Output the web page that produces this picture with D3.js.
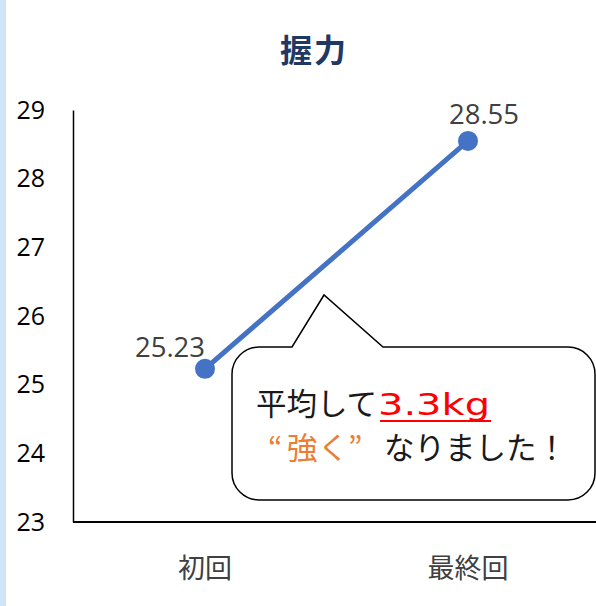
<!DOCTYPE html>
<html><head><meta charset="utf-8">
<script src="https://cdn.jsdelivr.net/npm/d3@7"></script>
<style>body{margin:0;background:#fff;} svg{display:block;}</style>
</head><body>
<script>
const categories = ["初回", "最終回"];
const values = [25.23, 28.55];
const yTicks = [23, 24, 25, 26, 27, 28, 29];
const title = "握力";

const W = 596, H = 606;
const svg = d3.select("body").append("svg").attr("width", W).attr("height", H);
svg.append("rect").attr("x",0).attr("y",0).attr("width",W).attr("height",H).attr("fill","#fff");
svg.append("rect").attr("x",0).attr("y",0).attr("width",6).attr("height",H).attr("fill","#cfe5f7");

const x = d3.scalePoint().domain(categories).range([205, 468]);
const y = d3.scaleLinear().domain([23, 29]).range([522, 110]);

const numFont = "'Open Sans', sans-serif";
const jpFont = "'Noto Sans CJK JP', sans-serif";

svg.append("text").attr("x", 314).attr("y", 62).attr("text-anchor","middle")
  .attr("font-family",jpFont).attr("font-weight","bold").attr("font-size",32)
  .attr("letter-spacing",2)
  .attr("fill","#1f3864").text(title);

// y axis
const yAxis = svg.append("g").attr("transform","translate(73,0)")
  .call(d3.axisLeft(y).tickValues(yTicks).tickSize(0).tickPadding(28).tickFormat(d3.format("d")));
yAxis.select(".domain").attr("stroke","#000").attr("stroke-width",1.5);
yAxis.selectAll("text").attr("font-family",numFont).attr("font-size",25).attr("fill","#000");

// x axis
svg.append("line").attr("x1",73).attr("x2",W).attr("y1",y(23)).attr("y2",y(23))
  .attr("stroke","#000").attr("stroke-width",2);
svg.selectAll(".xl").data(categories).enter().append("text")
  .attr("x", d => x(d)).attr("y", 578).attr("text-anchor","middle")
  .attr("font-family",jpFont).attr("font-size",27).attr("fill","#404040").text(d => d);

// line
const pts = categories.map((c,i) => [x(c), y(values[i])]);
svg.append("path").attr("d", d3.line()(pts)).attr("stroke","#4472c4").attr("stroke-width",5).attr("fill","none");
svg.selectAll(".pt").data(pts).enter().append("circle")
  .attr("cx", d=>d[0]).attr("cy", d=>d[1]).attr("r",10).attr("fill","#4472c4");
const labelOffsets = [[-35,-12],[16,-17]];
svg.selectAll(".dl").data(values).enter().append("text")
  .attr("x",(d,i)=>x(categories[i])+labelOffsets[i][0]).attr("y",(d,i)=>y(d)+labelOffsets[i][1])
  .attr("text-anchor","middle")
  .attr("font-family",numFont).attr("font-size",27.5)
  .attr("fill","#404040").text(d => d.toFixed(2));

// callout
const bx=232, by=347, bw=363, bh=153, r=27;
const tipX=324, tipY=295, b1=292, b2=383;
const p = d3.path();
p.moveTo(bx+r, by);
p.lineTo(b1, by); p.lineTo(tipX, tipY); p.lineTo(b2, by);
p.lineTo(bx+bw-r, by); p.arcTo(bx+bw, by, bx+bw, by+r, r);
p.lineTo(bx+bw, by+bh-r); p.arcTo(bx+bw, by+bh, bx+bw-r, by+bh, r);
p.lineTo(bx+r, by+bh); p.arcTo(bx, by+bh, bx, by+bh-r, r);
p.lineTo(bx, by+r); p.arcTo(bx, by, bx+r, by, r);
p.closePath();
svg.append("path").attr("d", p.toString()).attr("fill","#fff").attr("stroke","#000").attr("stroke-width",1.5);

const fs = 30.5;
svg.append("text").attr("x",256).attr("y",415)
  .attr("font-family",jpFont).attr("font-size",fs).attr("fill","#1a1a1a").text("平均して");
svg.append("text").attr("x",378).attr("y",415)
  .attr("font-family","'DejaVu Sans', sans-serif").attr("font-size",31)
  .attr("textLength",112).attr("lengthAdjust","spacingAndGlyphs")
  .attr("fill","#ff0000").text("3.3kg");
svg.append("line").attr("x1",380).attr("x2",491).attr("y1",421).attr("y2",421)
  .attr("stroke","#ff0000").attr("stroke-width",2);

const t2 = svg.append("text").attr("y",459).attr("font-family",jpFont).attr("font-size",fs).attr("fill","#ed7d31");
t2.append("tspan").attr("x",268).text("“");
t2.append("tspan").attr("x",287).text("強");
t2.append("tspan").attr("x",318).text("く");
t2.append("tspan").attr("x",348).text("”");
svg.append("text").attr("x",384).attr("y",459).attr("font-family",jpFont).attr("font-size",fs)
  .attr("fill","#1a1a1a").text("なりました！");
</script>
</body></html>
